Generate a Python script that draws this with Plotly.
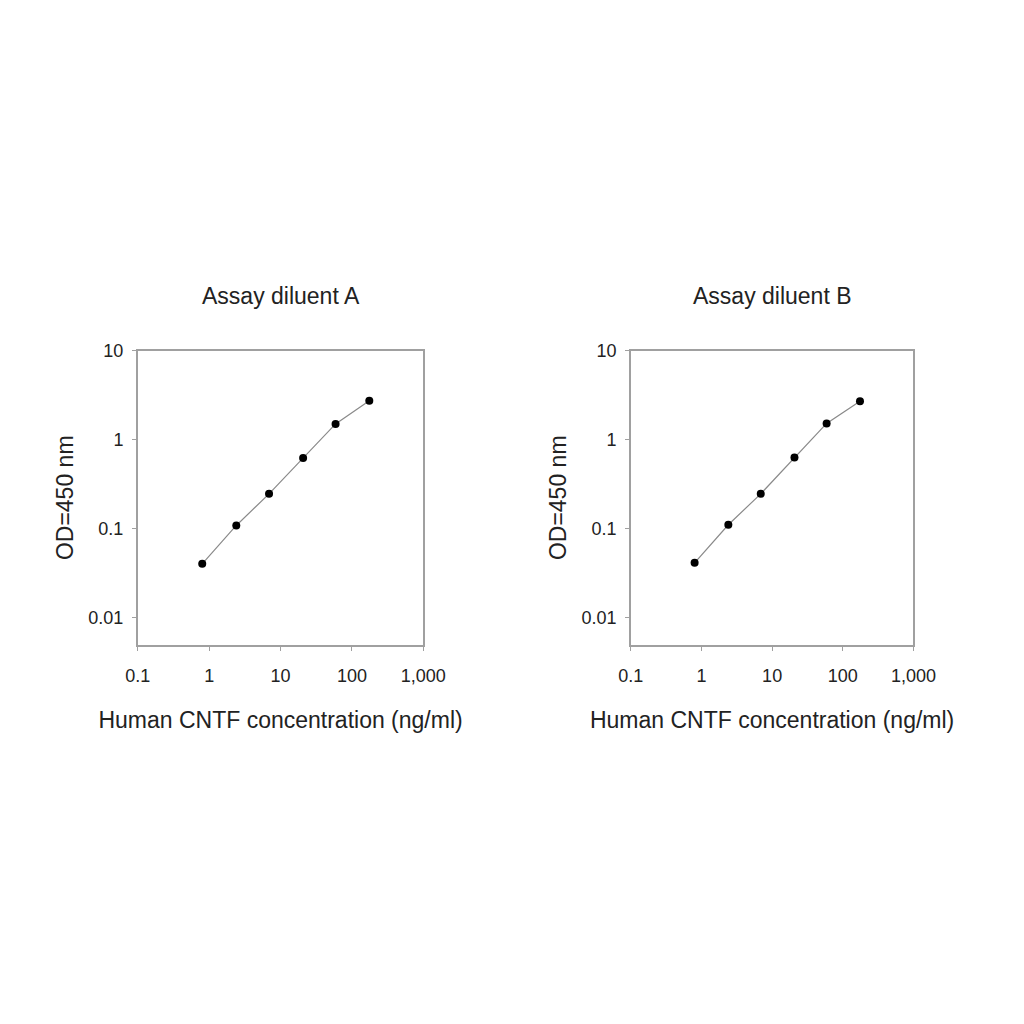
import plotly.graph_objects as go
from plotly.subplots import make_subplots

# Data.
conc = [0.80, 2.4, 6.9, 20.7, 59, 175]
od_a = [0.040, 0.108, 0.245, 0.62, 1.50, 2.74]
od_b = [0.041, 0.110, 0.245, 0.63, 1.52, 2.70]
panel_titles = ['Assay diluent A', 'Assay diluent B']
x_ticks = [0.1, 1, 10, 100, 1000]
x_ticktext = ['0.1', '1', '10', '100', '1,000']
y_ticks = [0.01, 0.1, 1, 10]
y_ticktext = ['0.01', '0.1', '1', '10']

fig = make_subplots(rows=1, cols=2)

for col, od in enumerate([od_a, od_b], start=1):
    fig.add_trace(go.Scatter(x=conc, y=od, mode='lines+markers',
                             line=dict(color='#8a8a8a', width=1.2),
                             marker=dict(color='black', size=8),
                             showlegend=False), row=1, col=col)

axis_style = dict(showline=True, linecolor='#a0a0a0', linewidth=1.5, mirror=True,
                  showgrid=False, zeroline=False, ticks='outside', ticklen=4,
                  tickcolor='#a0a0a0', tickfont=dict(size=18, color='#222'),
                  title_font=dict(size=23, color='#222'))

fig.update_xaxes(type='log', range=[-1, 3], tickvals=x_ticks, ticktext=x_ticktext,
                 title_text='Human CNTF concentration (ng/ml)', title_standoff=27,
                 ticklabelstandoff=10, **axis_style)
fig.update_yaxes(type='log', range=[-2.31, 1], tickvals=y_ticks, ticktext=y_ticktext,
                 title_text='OD=450 nm', title_standoff=8,
                 ticklabelstandoff=5, **axis_style)

y_dom = [1 - 633 / 1024, 1 - 336 / 1024]
fig.update_layout(
    xaxis=dict(domain=[121 / 1024, 417 / 1024]),
    xaxis2=dict(domain=[632 / 1024, 925 / 1024]),
    yaxis=dict(domain=y_dom),
    yaxis2=dict(domain=y_dom),
)

for i, t in enumerate(panel_titles):
    xref = 'x domain' if i == 0 else 'x2 domain'
    fig.add_annotation(text=t, xref=xref, yref='paper', x=0.5, y=1 - 281 / 1024,
                       showarrow=False, yanchor='middle',
                       font=dict(size=23, color='#222'))

fig.update_layout(width=1024, height=1024, margin=dict(l=0, r=0, t=0, b=0),
                  plot_bgcolor='white', paper_bgcolor='white',
                  font=dict(family='Liberation Sans, Arial, sans-serif'))
fig.write_html('out.html')
